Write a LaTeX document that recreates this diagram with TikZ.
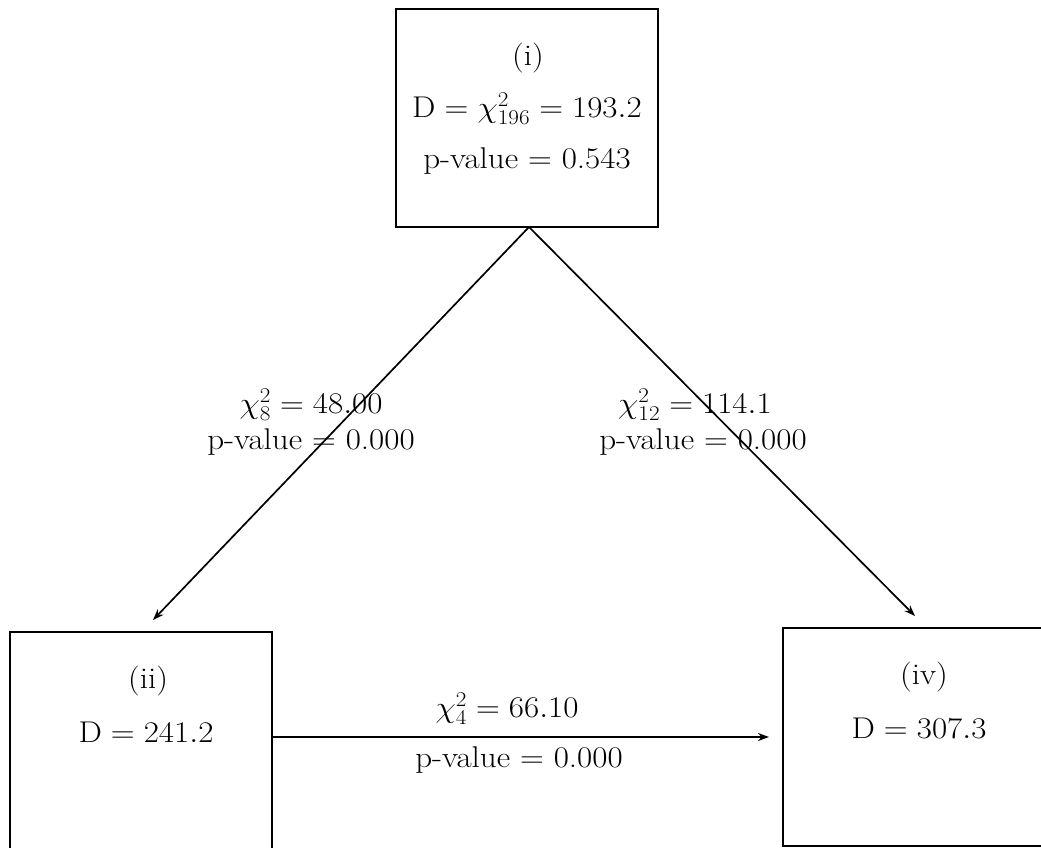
\RequirePackage{fix-cm}
\documentclass[tikz,border=0pt]{standalone}
\usepackage{graphicx}
\usetikzlibrary{arrows.meta}
\newcommand{\widetxt}[1]{\scalebox{1.1}[1]{#1}}
\begin{document}
\begin{tikzpicture}[x=1pt,y=-1pt,
  box/.style={draw, line width=2pt, minimum width=262pt, minimum height=218pt,
    anchor=north west, inner sep=0pt, outer sep=0pt},
  lbl/.style={anchor=base, inner sep=0pt, font=\fontsize{30}{36}\selectfont},
  arr/.style={line width=1.7pt, -{Stealth[length=11pt,width=8pt]}}]
\useasboundingbox (0,0) rectangle (1041,847);
% boxes
\node[box] (top) at (396,9) {};
\node[box] (left) at (10,632) {};
\node[box] (right) at (783,628) {};
% box texts
\node[lbl] (ti) at (528,65) {\widetxt{(i)}};
\node[lbl] (td) at (527,117) {\widetxt{$\mathrm{D} = \chi^2_{196} = 193.2$}};
\node[lbl] (tp) at (527,168) {\widetxt{p-value $=$ 0.543}};
\node[lbl] (lii) at (148,688) {\widetxt{(ii)}};
\node[lbl] (ld) at (146,742) {\widetxt{$\mathrm{D} = 241.2$}};
\node[lbl] (riv) at (924,684) {\widetxt{(iv)}};
\node[lbl] (rd) at (919,738) {\widetxt{$\mathrm{D} = 307.3$}};
% connector labels
\node[lbl] (l1) at (311,413) {\widetxt{$\chi^2_8 = 48.00$}};
\node[lbl] (l2) at (311,449) {\widetxt{p-value $=$ 0.000}};
\node[lbl] (r1) at (695,413) {\widetxt{$\chi^2_{12} = 114.1$}};
\node[lbl] (r2) at (703,449) {\widetxt{p-value $=$ 0.000}};
\node[lbl] (h1) at (507,717) {\widetxt{$\chi^2_4 = 66.10$}};
\node[lbl] (h2) at (519,767) {\widetxt{p-value $=$ 0.000}};
% connectors
\coordinate (tipL) at (153,620);
\coordinate (tipR) at (915,616);
\coordinate (hend) at (769,737);
\draw[arr] ([xshift=2pt]top.south) -- (tipL);
\draw[arr] ([xshift=2pt]top.south) -- (tipR);
\draw[arr] ([yshift=4pt]left.east) -- (hend);
\end{tikzpicture}
\end{document}
